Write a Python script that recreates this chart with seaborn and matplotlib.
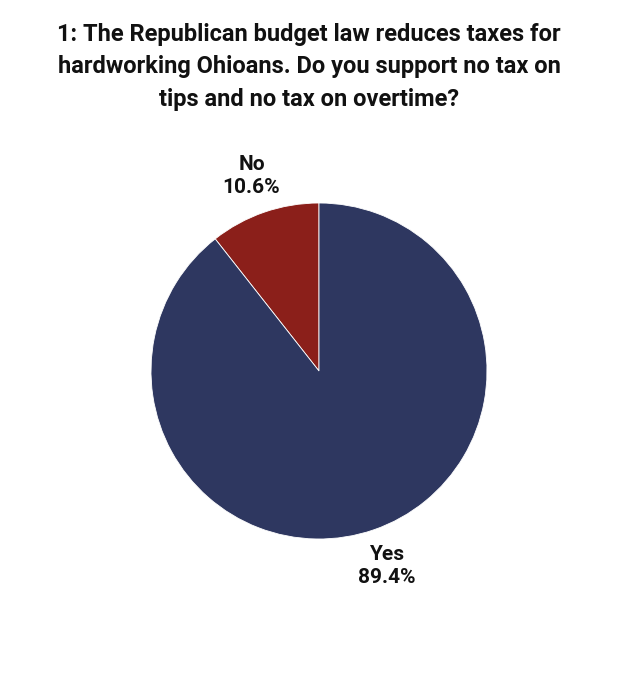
import numpy as np
import matplotlib.pyplot as plt
import seaborn as sns

answers = ['No', 'Yes']
shares = [10.6, 89.4]
slice_colors = ['#8B1F1A', '#2E3760']
title = ('1: The Republican budget law reduces taxes for\n'
         'hardworking Ohioans. Do you support no tax on\n'
         'tips and no tax on overtime?')

sns.set_style('white')
plt.rcParams['font.family'] = ['Roboto', 'DejaVu Sans']

fig = plt.figure(figsize=(6.4, 6.95), dpi=100)
# pie circle: centre ~(319, 371) px, radius ~168 px
ax = fig.add_axes([151 / 640, (695 - 539) / 695, 336 / 640, 336 / 695])

labels = ['%s\n%.1f%%' % (a, s) for a, s in zip(answers, shares)]
wedges, texts = ax.pie(shares, labels=labels, colors=slice_colors, startangle=90,
                       counterclock=True, labeldistance=1.23,
                       wedgeprops={'edgecolor': 'white', 'linewidth': 0.6},
                       textprops={'fontsize': 15, 'fontweight': 'bold', 'color': '#111111'})
for t in texts:
    t.set_ha('center')
    t.set_va('center')
    t.set_linespacing(1.25)
    t.set_clip_on(False)
ax.set_xlim(-1, 1)
ax.set_ylim(-1, 1)
ax.set_aspect('equal')
ax.axis('off')

fig.text(0.483, 0.9036, title, ha='center', va='center', fontsize=17,
         fontweight='bold', linespacing=1.55, color='#111111')

fig.savefig('out.png', dpi=100, facecolor='white')
